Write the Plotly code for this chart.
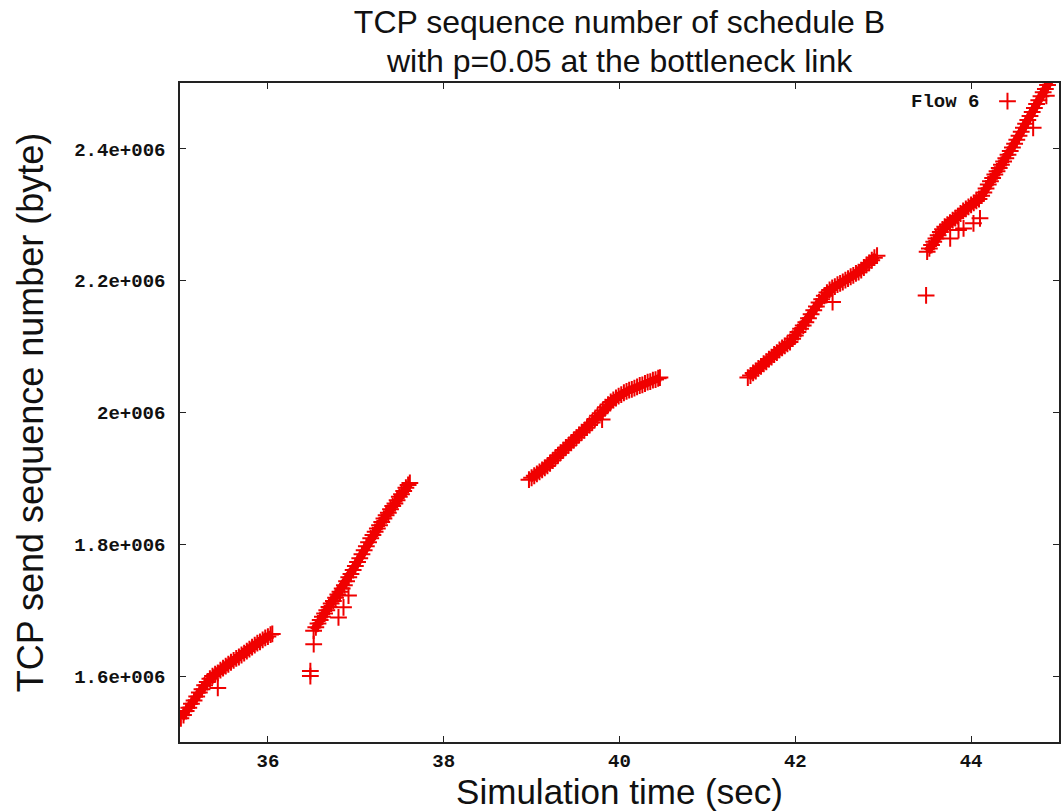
import plotly.graph_objects as go

# ---- data (time in s, sequence number in bytes) ----
seg1_time = [35.01, 35.04, 35.07, 35.10, 35.13, 35.16, 35.19, 35.22, 35.25, 35.28, 35.31, 35.34,
             35.37, 35.40, 35.43, 35.46, 35.49, 35.52, 35.55, 35.58, 35.61, 35.64, 35.67, 35.70,
             35.73, 35.76, 35.79, 35.82, 35.85, 35.88, 35.91, 35.94, 35.97, 36.00, 36.03, 36.05]
seg1_seq = [1536000, 1541000, 1547000, 1552000, 1558000, 1563000, 1569000, 1575000, 1580000,
            1586000, 1591000, 1596000, 1600000, 1603000, 1605000, 1609000, 1612000, 1615000,
            1618000, 1621000, 1624000, 1627000, 1629000, 1632000, 1635000, 1638000, 1641000,
            1644000, 1647000, 1650000, 1652000, 1655000, 1658000, 1660000, 1663000, 1664000]

seg2_time = [36.52, 36.545, 36.57, 36.595, 36.62, 36.645, 36.67, 36.695, 36.72, 36.745, 36.77,
             36.795, 36.82, 36.845, 36.87, 36.895, 36.92, 36.945, 36.97, 36.995, 37.02, 37.045,
             37.07, 37.095, 37.12, 37.145, 37.17, 37.195, 37.22, 37.245, 37.27, 37.295, 37.32,
             37.345, 37.37, 37.395, 37.42, 37.445, 37.47, 37.495, 37.52, 37.545, 37.57, 37.595,
             37.615]
seg2_seq = [1669000, 1674000, 1680000, 1685000, 1690000, 1695000, 1700000, 1705000, 1710000,
            1714000, 1719000, 1724000, 1728000, 1733000, 1738000, 1744000, 1750000, 1755000,
            1761000, 1767000, 1773000, 1779000, 1785000, 1791000, 1797000, 1803000, 1809000,
            1814000, 1819000, 1824000, 1829000, 1834000, 1839000, 1844000, 1848000, 1853000,
            1858000, 1862000, 1867000, 1872000, 1876000, 1881000, 1886000, 1890000, 1893000]

seg3_time = [38.97, 39.00, 39.03, 39.06, 39.09, 39.12, 39.15, 39.18, 39.21, 39.24, 39.27, 39.30,
             39.33, 39.36, 39.39, 39.42, 39.45, 39.48, 39.51, 39.54, 39.57, 39.60, 39.63, 39.66,
             39.69, 39.72, 39.75, 39.78, 39.81, 39.84, 39.87, 39.90, 39.93, 39.96, 39.99, 40.02,
             40.05, 40.08, 40.11, 40.14, 40.17, 40.20, 40.23, 40.26, 40.29, 40.32, 40.35, 40.38,
             40.41, 40.44, 40.46]
seg3_seq = [1898000, 1901000, 1904000, 1907000, 1910000, 1913000, 1916000, 1919000, 1923000,
            1927000, 1931000, 1935000, 1939000, 1943000, 1947000, 1950000, 1954000, 1958000,
            1962000, 1966000, 1970000, 1973000, 1977000, 1981000, 1985000, 1990000, 1995000,
            1999000, 2003000, 2008000, 2012000, 2016000, 2019000, 2022000, 2025000, 2027000,
            2030000, 2032000, 2034000, 2035000, 2037000, 2039000, 2041000, 2042000, 2044000,
            2046000, 2047000, 2049000, 2050000, 2052000, 2053000]

seg4_time = [41.46, 41.49, 41.52, 41.55, 41.58, 41.61, 41.64, 41.67, 41.70, 41.73, 41.76, 41.79,
             41.82, 41.85, 41.88, 41.91, 41.94, 41.97, 42.00, 42.03, 42.06, 42.09, 42.12, 42.15,
             42.18, 42.21, 42.24, 42.27, 42.30, 42.33, 42.36, 42.39, 42.42, 42.45, 42.48, 42.51,
             42.54, 42.57, 42.60, 42.63, 42.66, 42.69, 42.72, 42.75, 42.78, 42.81, 42.84, 42.87,
             42.90, 42.93]
seg4_seq = [2053000, 2056000, 2060000, 2063000, 2067000, 2070000, 2074000, 2077000, 2081000,
            2084000, 2088000, 2091000, 2095000, 2098000, 2101000, 2104000, 2107000, 2112000,
            2117000, 2122000, 2127000, 2132000, 2137000, 2143000, 2149000, 2155000, 2161000,
            2167000, 2172000, 2177000, 2182000, 2186000, 2189000, 2191000, 2194000, 2196000,
            2198000, 2201000, 2203000, 2206000, 2208000, 2211000, 2213000, 2216000, 2220000,
            2224000, 2227000, 2231000, 2235000, 2238000]

seg5_time = [43.50, 43.525, 43.55, 43.575, 43.60, 43.625, 43.65, 43.675, 43.70, 43.73, 43.76,
             43.79, 43.82, 43.85, 43.88, 43.91, 43.94, 43.97, 44.00, 44.03, 44.06, 44.09, 44.12,
             44.145, 44.17, 44.195, 44.22, 44.245, 44.27, 44.295, 44.32, 44.345, 44.37, 44.395,
             44.42, 44.445, 44.47, 44.495, 44.52, 44.545, 44.57, 44.595, 44.62, 44.645, 44.67,
             44.695, 44.72, 44.745, 44.77, 44.795, 44.82, 44.845, 44.87, 44.895]
seg5_seq = [2244000, 2249000, 2254000, 2259000, 2264000, 2269000, 2274000, 2278000, 2282000,
            2285000, 2288000, 2292000, 2295000, 2298000, 2302000, 2306000, 2309000, 2312000,
            2315000, 2318000, 2321000, 2324000, 2329000, 2334000, 2340000, 2346000, 2351000,
            2356000, 2361000, 2366000, 2371000, 2376000, 2381000, 2386000, 2391000, 2397000,
            2402000, 2408000, 2414000, 2420000, 2426000, 2432000, 2438000, 2444000, 2450000,
            2456000, 2462000, 2468000, 2474000, 2480000, 2486000, 2491000, 2497000, 2503000]

# retransmissions / stray points
outlier_time = [35.43, 36.483, 36.483, 36.521, 36.803, 36.860, 36.917, 39.802, 42.424,
                43.488, 43.762, 43.857, 43.914, 44.027, 44.101, 44.706, 44.856]
outlier_seq = [1582000, 1607600, 1600000, 1648400, 1689000, 1704300, 1722200, 1989300, 2167500,
               2177600, 2264100, 2276800, 2279400, 2287000, 2294700, 2432100, 2480500]

x_tickvals = [36, 38, 40, 42, 44]
x_ticktext = ["36", "38", "40", "42", "44"]
y_tickvals = [1600000, 1800000, 2000000, 2200000, 2400000]
y_ticktext = ["1.6e+006", "1.8e+006", "2e+006", "2.2e+006", "2.4e+006"]

series_name = "Flow 6"
title_line1 = "TCP sequence number of schedule B"
title_line2 = "with p=0.05 at the bottleneck link"

segments_time = [seg1_time, seg2_time, seg3_time, seg4_time, seg5_time]
segments_seq = [seg1_seq, seg2_seq, seg3_seq, seg4_seq, seg5_seq]

# dense runs of points: joined per segment (None breaks between segments)
band_time, band_seq = [], []
for t, s in zip(segments_time, segments_seq):
    band_time += t + [None]
    band_seq += s + [None]

all_time = sum(segments_time, []) + outlier_time
all_seq = sum(segments_seq, []) + outlier_seq

RED = "#f00000"
tick_font = dict(family="Liberation Mono", size=19, color="#111111", weight="bold")
label_font = dict(family="Liberation Sans", size=35, color="#111111")

fig = go.Figure()
# solid fill of the densely overlapping markers
fig.add_trace(go.Scatter(
    x=band_time, y=band_seq, mode="lines", showlegend=False, hoverinfo="skip",
    line=dict(color=RED, width=8), connectgaps=False,
))
fig.add_trace(go.Scatter(
    x=all_time, y=all_seq, mode="markers", name=" ",
    marker=dict(symbol="cross-thin", size=12, color=RED,
                line=dict(color=RED, width=2)),
    showlegend=True,
))

axis_common = dict(
    showgrid=False, zeroline=False, showline=True, linecolor="#222222", linewidth=1.5,
    mirror="ticks", ticks="inside", ticklen=6, tickwidth=1.2, tickcolor="#222222",
    tickfont=tick_font,
)

fig.update_layout(
    width=1064, height=811,
    margin=dict(l=180, r=3, t=83, b=69),
    paper_bgcolor="white", plot_bgcolor="white",
    title=dict(text=title_line1,
               font=dict(family="Liberation Sans", size=32, color="#111111"),
               x=0.5, xref="paper", xanchor="center",
               y=1 - 22 / 811, yref="container", yanchor="middle"),
    annotations=[dict(text=title_line2, x=0.5, xref="paper", xanchor="center",
                      y=(742 - 61) / 659, yref="paper", yanchor="middle", showarrow=False,
                      font=dict(family="Liberation Sans", size=32, color="#111111"))],
    xaxis=dict(range=[35, 45], tickvals=x_tickvals, ticktext=x_ticktext,
               ticklabelstandoff=0,
               title=dict(text="Simulation time (sec)", font=label_font, standoff=0),
               **axis_common),
    yaxis=dict(range=[1500000, 2500000], tickvals=y_tickvals, ticktext=y_ticktext,
               ticklabelstandoff=9,
               title=dict(text="TCP send sequence number (byte)",
                          font=dict(family="Liberation Sans", size=36, color="#111111"),
                          standoff=20),
               **axis_common),
    legend=dict(
        title=dict(text=series_name, side="left",
                   font=dict(family="Liberation Mono", size=19, color="#111111", weight="bold")),
        x=0.983, xanchor="right", y=1.001, yanchor="top",
        bgcolor="rgba(0,0,0,0)", borderwidth=0,
        font=dict(family="Liberation Mono", size=19),
    ),
)

fig.write_html("out.html")
